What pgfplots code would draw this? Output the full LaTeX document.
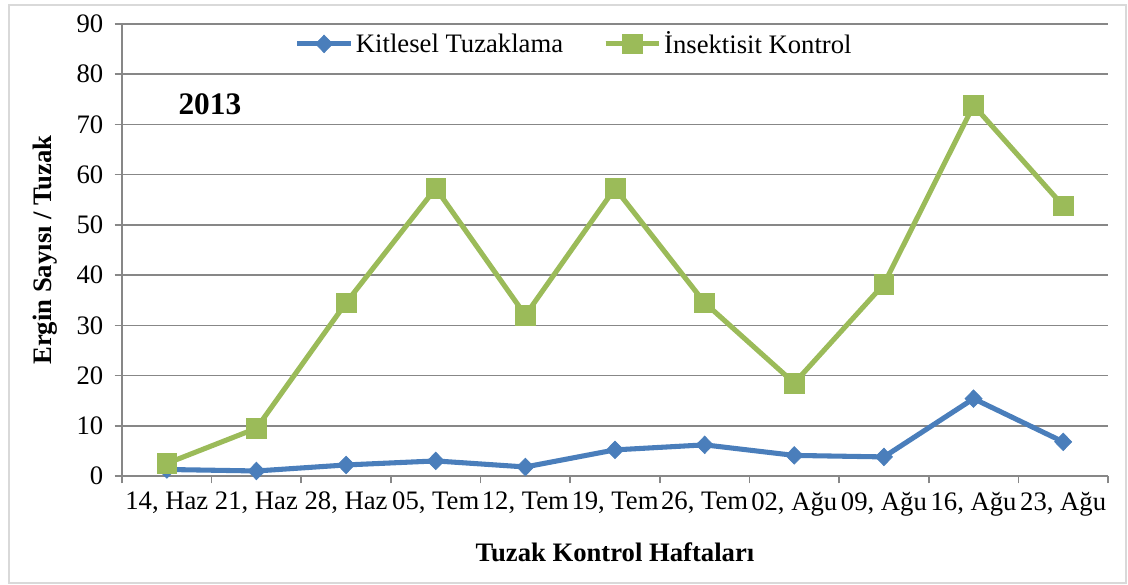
\documentclass[border=0pt]{standalone}
\usepackage{pgfplots}
\pgfplotsset{compat=1.18}
\usepackage{fontspec}
\setmainfont{Liberation Serif}
\definecolor{blueS}{HTML}{4A7EBB}
\definecolor{greenS}{HTML}{9BBB59}
\definecolor{gridc}{HTML}{878787}
\definecolor{framec}{HTML}{D9D9D9}
\begin{document}
\begin{tikzpicture}
\useasboundingbox (-91.5pt,-81.75pt) rectangle (754.5pt,357pt);
\draw[framec, line width=1.5pt] (-84.75pt,-80.25pt) rectangle (753pt,353.25pt);
\begin{axis}[
  at={(0,0)}, anchor=south west,
  scale only axis, width=739.5pt, height=339pt,
  xmin=-0.5, xmax=10.5, ymin=0, ymax=90,
  axis x line*=bottom, axis y line*=left,
  axis line style={gridc, line width=1.2pt, -},
  xtick={0,...,10},
  xticklabels={{14, Haz},{21, Haz},{28, Haz},{05, Tem},{12, Tem},{19, Tem},{26, Tem},{02, Ağu},{09, Ağu},{16, Ağu},{23, Ağu}},
  major x tick style={draw=none},
  minor xtick={-0.5,0.5,...,10.5},
  minor x tick style={gridc, line width=1.2pt},
  minor tick length=5.5pt,
  xtick align=outside, ytick align=outside,
  ytick={0,10,...,90},
  major y tick style={gridc, line width=1.2pt},
  major tick length=5.5pt,
  ymajorgrids, grid style={gridc, line width=1.2pt},
  /pgf/number format/assume math mode=true,
  tick label style={font=\fontsize{20}{23}\selectfont, text=black},
  xticklabel style={yshift=-3pt},
  yticklabel style={xshift=-5pt},
  xlabel={\textbf{Tuzak Kontrol Haftaları}},
  ylabel={\textbf{Ergin Sayısı / Tuzak}},
  label style={font=\fontsize{20}{23}\selectfont},
  x label style={at={(axis description cs:0.5,-0.168)}, anchor=center},
  y label style={at={(axis description cs:-0.078,0.5)}, anchor=center},
  legend style={at={(axis description cs:0.459,0.956)}, anchor=center, draw=none, fill=none,
    legend columns=2, font=\fontsize{20}{23}\selectfont,
    /tikz/every even column/.append style={column sep=28pt}},
  legend image code/.code={\draw[#1] (0pt,0pt) -- (40pt,0pt); \draw[#1, mark repeat=2, mark phase=2] plot coordinates {(0pt,0pt) (20pt,0pt) (40pt,0pt)};},
  clip=false,
]
\addplot[blueS, line width=3.8pt, mark=diamond*, mark size=6.6pt, mark options={xscale=1.3, line width=0.5pt, fill=blueS}] coordinates {
 (0,1.3) (1,1.0) (2,2.2) (3,3.0) (4,1.8) (5,5.2) (6,6.2) (7,4.1) (8,3.8) (9,15.4) (10,6.8)};
\addlegendentry{Kitlesel Tuzaklama}
\addplot[greenS, line width=3.8pt, mark=square*, mark size=7.4pt, mark options={line width=0.5pt, fill=greenS}] coordinates {
 (0,2.5) (1,9.5) (2,34.5) (3,57.3) (4,32.0) (5,57.3) (6,34.5) (7,18.5) (8,38.2) (9,73.8) (10,53.8)};
\addlegendentry{İnsektisit Kontrol}
\node[font=\bfseries\fontsize{23.5}{26}\selectfont] at (axis cs:0.48,74) {2013};
\end{axis}
\end{tikzpicture}
\end{document}
